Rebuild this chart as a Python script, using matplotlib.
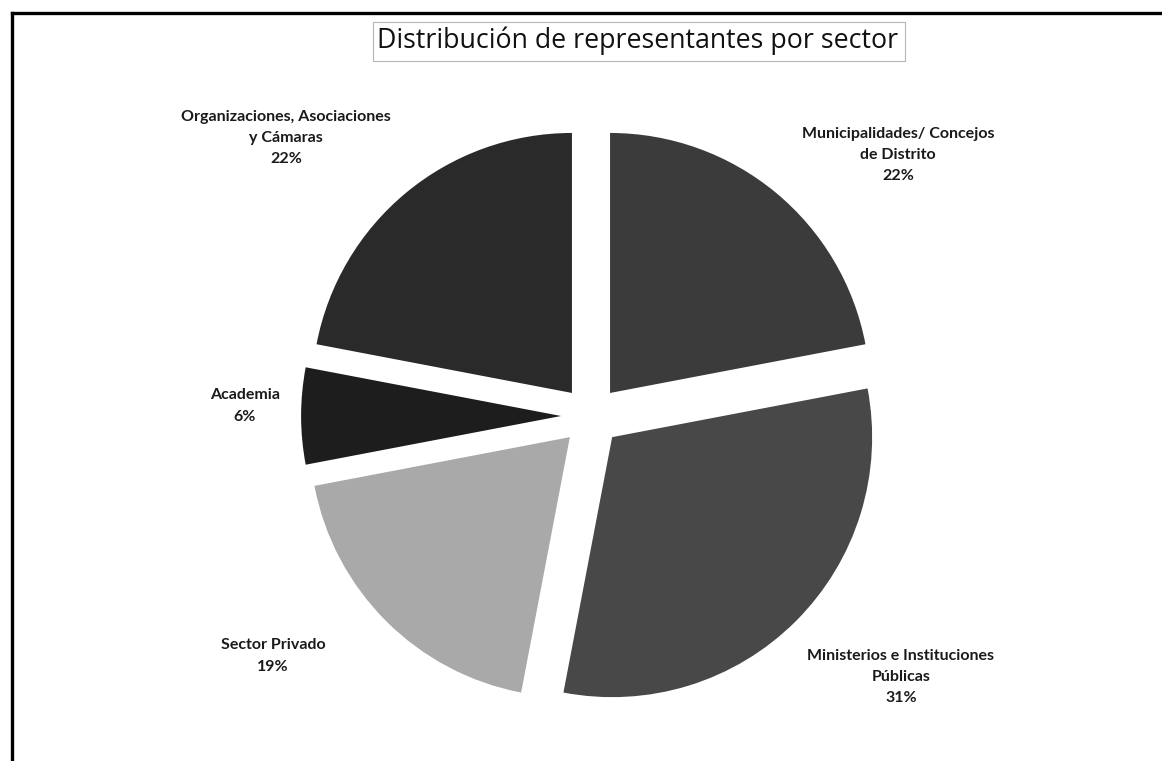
import matplotlib
matplotlib.use("Agg")
import matplotlib.pyplot as plt
from matplotlib.lines import Line2D
from matplotlib.patches import Rectangle

# ---- data ----
categories = ["Municipalidades/ Concejos\nde Distrito",
              "Ministerios e Instituciones\nPúblicas",
              "Sector Privado",
              "Academia",
              "Organizaciones, Asociaciones\ny Cámaras"]
shares = [22, 31, 19, 6, 22]
pct_labels = ["22%", "31%", "19%", "6%", "22%"]
colors = ["#3b3b3b", "#484848", "#a9a9a9", "#1d1d1d", "#2a2a2a"]
title = "Distribución de representantes por sector"

W, H = 1162, 761
fig = plt.figure(figsize=(W / 100, H / 100), dpi=100)
fig.patch.set_facecolor("white")

# axes in pixel-scaled data units: 1 unit = R pixels
R = 260.0
cx, cy = 591.0, 416.0  # pie centre (pixels from left / top)
ax = fig.add_axes([0, 0, 1, 1])

explode = [0.115] * len(shares)
ax.pie(shares, colors=colors, startangle=90, counterclock=False,
       explode=explode, radius=1.0, center=(0, 0),
       wedgeprops=dict(linewidth=0))

ax.set_xlim(-cx / R, (W - cx) / R)
ax.set_ylim(-(H - cy) / R, cy / R)
ax.set_aspect("equal")
ax.axis("off")

def px(x, y):
    return ((x - cx) / R, (cy - y) / R)

label_pos = [(898, 155), (901, 677), (273, 656), (245, 406), (286, 138)]
for cat, pct, (x, y) in zip(categories, pct_labels, label_pos):
    tx, ty = px(x, y)
    ax.text(tx, ty, cat + "\n" + pct, ha="center", va="center",
            fontsize=11.5, fontweight="bold", family="Lato",
            color="#1a1a1a", linespacing=1.68)

# title with light box
fig.text(638 / W, 1 - 41 / H, title, ha="center", va="center",
         fontsize=19.3, family="Open Sans", color="#111111")
fig.add_artist(Rectangle((373 / W, 1 - 61 / H), (905 - 373) / W, (61 - 22) / H,
                         transform=fig.transFigure, fill=False,
                         edgecolor="#b5b5b5", linewidth=0.8))

# outer frame (left and top visible)
fig.add_artist(Line2D([11.5 / W, 11.5 / W], [0, 1 - 12.5 / H],
                      transform=fig.transFigure, color="black", linewidth=2.4))
fig.add_artist(Line2D([11.5 / W, 1], [1 - 12.5 / H, 1 - 12.5 / H],
                      transform=fig.transFigure, color="black", linewidth=2.4))

fig.savefig("out.png", dpi=100, facecolor="white")
